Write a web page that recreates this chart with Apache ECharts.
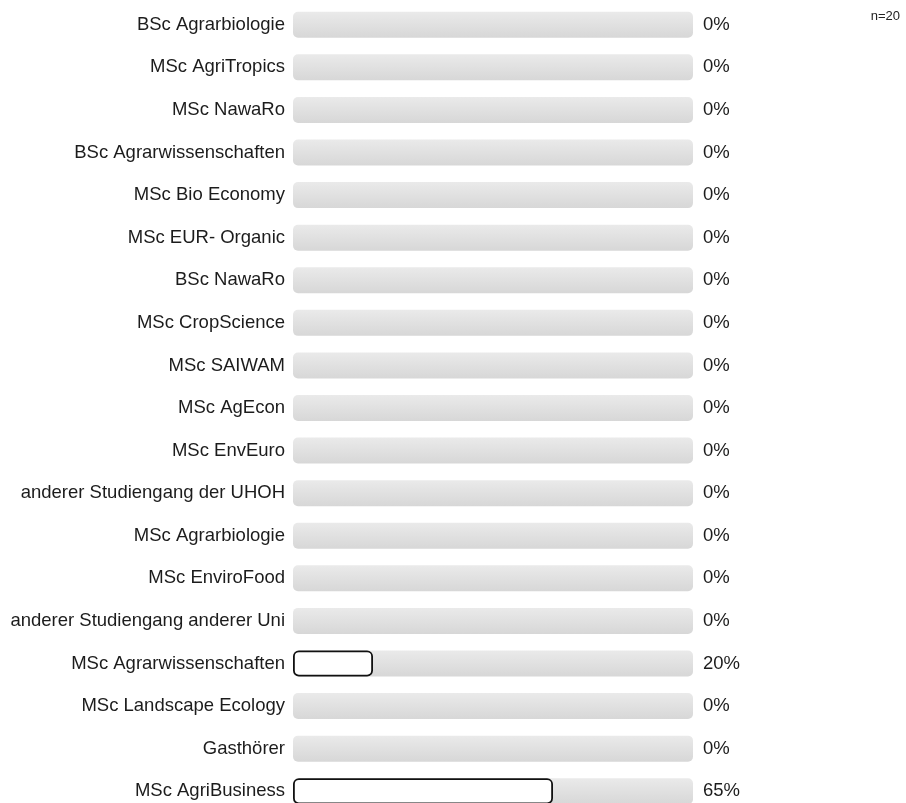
<!DOCTYPE html>
<html>
<head>
<meta charset="utf-8">
<script src="https://cdn.jsdelivr.net/npm/echarts@6/dist/echarts.min.js"></script>
<style>
  html, body { margin: 0; padding: 0; background: #fff; }
  #chart { width: 906px; height: 803px; }
</style>
</head>
<body>
<div id="chart"></div>
<script>
// Studiengang categories, top to bottom
const categories = [
  "BSc Agrarbiologie",
  "MSc AgriTropics",
  "MSc NawaRo",
  "BSc Agrarwissenschaften",
  "MSc Bio Economy",
  "MSc EUR- Organic",
  "BSc NawaRo",
  "MSc CropScience",
  "MSc SAIWAM",
  "MSc AgEcon",
  "MSc EnvEuro",
  "anderer Studiengang der UHOH",
  "MSc Agrarbiologie",
  "MSc EnviroFood",
  "anderer Studiengang anderer Uni",
  "MSc Agrarwissenschaften",
  "MSc Landscape Ecology",
  "Gasthörer",
  "MSc AgriBusiness"
];
// percent per category
const percents = [0, 0, 0, 0, 0, 0, 0, 0, 0, 0, 0, 0, 0, 0, 0, 20, 0, 0, 65];
const sampleSize = "n=20";

const font = "Liberation Sans, Arial, sans-serif";

let myChart = echarts.init(document.getElementById("chart"));
myChart.setOption({
  animation: false,
  title: {
    text: sampleSize,
    right: 1,
    top: 5,
    textStyle: {
      fontSize: 13,
      fontWeight: "normal",
      color: "#222",
      fontFamily: font
    }
  },
  grid: {
    left: 293,
    top: 3.5,
    width: 400,
    height: 809,
    outerBoundsMode: "none"
  },
  xAxis: {
    type: "value",
    min: 0,
    max: 100,
    show: false
  },
  yAxis: [
    {
      type: "category",
      inverse: true,
      data: categories,
      axisLine: { show: false },
      axisTick: { show: false },
      axisLabel: {
        margin: 8,
        fontSize: 18.5,
        color: "#1c1c1c",
        fontFamily: font
      }
    },
    {
      type: "category",
      inverse: true,
      position: "right",
      data: percents.map(v => v + "%"),
      axisLine: { show: false },
      axisTick: { show: false },
      axisLabel: {
        margin: 10,
        fontSize: 18.5,
        color: "#1c1c1c",
        fontFamily: font
      }
    }
  ],
  series: [
    {
      type: "bar",
      barWidth: 26,
      data: percents.map(v => (v > 0 ? v : null)),
      showBackground: true,
      backgroundStyle: {
        borderRadius: 5,
        color: {
          type: "linear", x: 0, y: 0, x2: 0, y2: 1,
          colorStops: [
            { offset: 0, color: "#eaeaea" },
            { offset: 1, color: "#d7d7d7" }
          ]
        }
      },
      itemStyle: {
        color: "#fff",
        borderColor: "#111",
        borderWidth: 1.8,
        borderRadius: 5
      }
    }
  ]
});
</script>
</body>
</html>
